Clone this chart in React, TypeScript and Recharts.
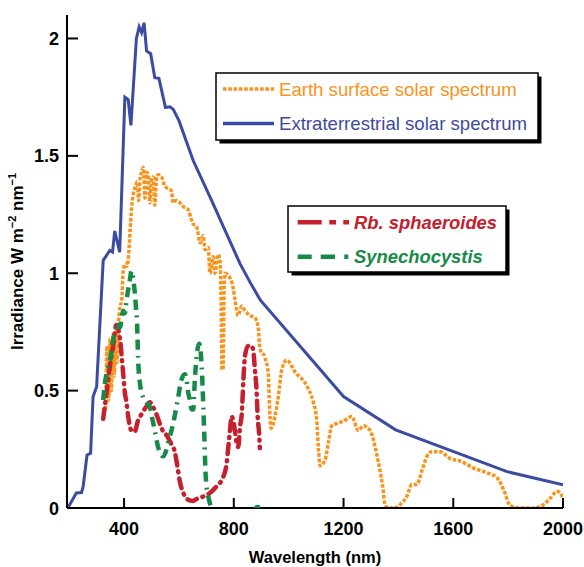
import React from "react";
import { ComposedChart, Line, Scatter, XAxis, YAxis } from "recharts";

// wavelength (nm) / irradiance (W m-2 nm-1) pairs
const extraNm = [195, 226, 245, 251, 265, 278, 287, 300, 324, 348, 358, 366, 384, 403, 415, 425, 445, 455, 464, 473, 482, 497, 512, 527, 551, 567, 579, 600, 652, 719, 823, 860, 897, 1200, 1390, 1796, 2000];
const extraVal = [0, 0.064, 0.066, 0.092, 0.226, 0.233, 0.474, 0.517, 1.055, 1.097, 1.09, 1.18, 1.09, 1.75, 1.74, 1.63, 2.0, 2.05, 2.025, 2.067, 1.947, 1.935, 1.833, 1.83, 1.706, 1.709, 1.699, 1.65, 1.48, 1.31, 1.04, 0.96, 0.885, 0.475, 0.333, 0.155, 0.099];

const earthNm = [333, 338, 344, 349, 354, 359, 364, 369, 374, 380, 386, 391, 397, 405, 411, 418, 424, 430, 436, 442, 448, 453, 458, 464, 470, 476, 482, 488, 494, 500, 506, 512, 518, 524, 537, 549, 562, 573, 579, 590, 604, 620, 634, 645, 652, 664, 677, 689, 695, 707, 713, 725, 731, 743, 750, 754, 757, 761, 765, 768, 786, 798, 804, 816, 829, 841, 859, 877, 889, 895, 914, 926, 929, 932, 936, 950, 962, 975, 993, 1023, 1066, 1090, 1102, 1108, 1115, 1133, 1145, 1157, 1175, 1200, 1230, 1254, 1272, 1297, 1309, 1321, 1333, 1343, 1352, 1365, 1382, 1406, 1431, 1449, 1467, 1486, 1504, 1522, 1552, 1589, 1625, 1674, 1723, 1759, 1783, 1808, 1844, 1893, 1929, 1954, 1978, 1990, 2000];
const earthVal = [0.42, 0.69, 0.46, 0.72, 0.5, 0.74, 0.56, 0.75, 0.62, 0.79, 0.86, 0.88, 1.01, 1.04, 1.03, 1.1, 1.22, 1.31, 1.35, 1.37, 1.39, 1.31, 1.4, 1.43, 1.45, 1.32, 1.43, 1.42, 1.3, 1.4, 1.41, 1.29, 1.4, 1.42, 1.41, 1.37, 1.36, 1.35, 1.3, 1.31, 1.3, 1.28, 1.27, 1.23, 1.21, 1.2, 1.13, 1.16, 1.1, 1.11, 1.0, 1.07, 1.0, 1.08, 1.05, 0.86, 0.59, 0.59, 0.95, 1.0, 0.98, 0.935, 0.89, 0.82, 0.86, 0.84, 0.82, 0.81, 0.77, 0.68, 0.64, 0.57, 0.47, 0.39, 0.34, 0.39, 0.47, 0.59, 0.63, 0.58, 0.52, 0.45, 0.38, 0.26, 0.18, 0.205, 0.28, 0.35, 0.36, 0.37, 0.39, 0.33, 0.35, 0.33, 0.29, 0.23, 0.16, 0.09, 0.01, 0, 0, 0.014, 0.05, 0.1, 0.1, 0.16, 0.22, 0.24, 0.24, 0.21, 0.2, 0.17, 0.15, 0.13, 0.08, 0.01, 0, 0, 0.014, 0.042, 0.071, 0.064, 0.04];

const rbNm = [324, 336, 348, 360, 372, 385, 397, 403, 409, 415, 427, 439, 450, 464, 480, 494, 506, 518, 530, 543, 555, 573, 585, 594, 604, 616, 634, 650, 670, 689, 713, 737, 762, 774, 780, 786, 792, 804, 810, 816, 823, 829, 835, 841, 853, 865, 871, 877, 883, 887, 892, 895];
const rbVal = [0.38, 0.49, 0.6, 0.69, 0.78, 0.72, 0.57, 0.49, 0.45, 0.39, 0.33, 0.325, 0.37, 0.4, 0.43, 0.45, 0.43, 0.4, 0.36, 0.325, 0.31, 0.27, 0.24, 0.18, 0.11, 0.064, 0.035, 0.03, 0.042, 0.049, 0.064, 0.092, 0.134, 0.19, 0.26, 0.33, 0.39, 0.33, 0.28, 0.26, 0.35, 0.4, 0.545, 0.65, 0.69, 0.69, 0.67, 0.59, 0.5, 0.39, 0.32, 0.255];

const synNm = [324, 330, 336, 342, 351, 360, 370, 378, 385, 391, 397, 403, 409, 415, 421, 427, 433, 443, 448, 451, 458, 470, 482, 494, 503, 512, 524, 533, 543, 552, 561, 579, 597, 610, 622, 628, 634, 640, 646, 652, 658, 664, 674, 683, 689, 693, 697, 701, 707, 713, 719];
const synVal = [0.46, 0.53, 0.57, 0.6, 0.64, 0.715, 0.76, 0.79, 0.77, 0.81, 0.84, 0.83, 0.885, 0.93, 0.97, 1.01, 0.98, 0.86, 0.77, 0.64, 0.53, 0.47, 0.45, 0.43, 0.38, 0.33, 0.26, 0.23, 0.22, 0.24, 0.28, 0.36, 0.47, 0.55, 0.57, 0.545, 0.49, 0.46, 0.42, 0.42, 0.545, 0.64, 0.7, 0.6, 0.43, 0.29, 0.15, 0.09, 0.049, 0.02, 0];
const synLoneNm = [886];
const synLoneVal = [0];

const xTicks = [400, 800, 1200, 1600, 2000];
const yTicks = [0, 0.5, 1, 1.5, 2];

const BLUE = "#3c4ba2";
const ORANGE = "#f7941e";
const RED = "#c4202e";
const GREEN = "#178a47";
const FONT = "'Liberation Sans', Arial, Helvetica, sans-serif";

const pairs = (xs: number[], ys: number[]) => xs.map((nm, i) => ({ nm, v: ys[i] }));

const extraData = pairs(extraNm, extraVal);
const earthData = pairs(earthNm, earthVal);
const rbData = pairs(rbNm, rbVal);
const synData = pairs(synNm, synVal);
const synLone = pairs(synLoneNm, synLoneVal);

function BottomTick({ x, y, payload }: any) {
  return (
    <g>
      <line x1={x} x2={x} y1={y} y2={y - 10} stroke="#000" strokeWidth={2} />
      <text x={x} y={y + 27} textAnchor="middle" fontFamily={FONT} fontWeight="bold" fontSize={18} fill="#000">
        {payload.value}
      </text>
    </g>
  );
}

function LeftTick({ x, y, payload }: any) {
  return (
    <g>
      <line x1={x} x2={x + 11} y1={y} y2={y} stroke="#000" strokeWidth={2} />
      <text x={x - 8} y={y + 6.5} textAnchor="end" fontFamily={FONT} fontWeight="bold" fontSize={18} fill="#000">
        {String(payload.value)}
      </text>
    </g>
  );
}

function TopTick({ x, y }: any) {
  return <line x1={x} x2={x} y1={y} y2={y + 10} stroke="#000" strokeWidth={2} />;
}

function RightTick({ x, y }: any) {
  return <line x1={x} x2={x - 11} y1={y} y2={y} stroke="#000" strokeWidth={2} />;
}

function Legends() {
  return (
    <svg width={584} height={567} style={{ position: "absolute", left: 0, top: 0, pointerEvents: "none" }}>
      <rect x={219.5} y={76.5} width={322} height={67} fill="#000" />
      <rect x={216} y={73} width={322} height={67} fill="#fff" stroke="#000" strokeWidth={1.5} />
      <line x1={223} x2={274} y1={89} y2={89} stroke={ORANGE} strokeWidth={3.5} strokeDasharray="3.6 1.7" />
      <text x={279} y={95.5} fontFamily={FONT} fontSize={18.6} fill={ORANGE}>Earth surface solar spectrum</text>
      <line x1={223} x2={274} y1={123.5} y2={123.5} stroke={BLUE} strokeWidth={3.5} />
      <text x={279} y={130} fontFamily={FONT} fontSize={18.6} fill={BLUE}>Extraterrestrial solar spectrum</text>

      <rect x={291.5} y={209.5} width={218} height={66} fill="#000" />
      <rect x={288} y={206} width={218} height={66} fill="#fff" stroke="#000" strokeWidth={1.5} />
      <line x1={297.7} x2={349} y1={222.3} y2={222.3} stroke={RED} strokeWidth={4.5} strokeDasharray="24 7.6 6.7 7.3 5.7 100" />
      <text x={354} y={228.8} fontFamily={FONT} fontSize={18.4} fontWeight="bold" fontStyle="italic" fill={RED}>Rb. sphaeroides</text>
      <line x1={297.7} x2={348.3} y1={256.7} y2={256.7} stroke={GREEN} strokeWidth={4.5} strokeDasharray="14 9 14.3 9.3 4 100" />
      <text x={354} y={263.2} fontFamily={FONT} fontSize={18.4} fontWeight="bold" fontStyle="italic" fill={GREEN}>Synechocystis</text>
    </svg>
  );
}

export default function App() {
  return (
    <div style={{ position: "absolute", left: 0, top: 0, width: 584, height: 567, background: "#fff" }}>
      <ComposedChart width={584} height={567} margin={{ top: 15, right: 21, bottom: 0, left: 0 }}>
        <XAxis
          dataKey="nm"
          type="number"
          domain={[192, 2000]}
          ticks={xTicks}
          allowDataOverflow
          height={59}
          tickLine={false}
          tickSize={0}
          tickMargin={0}
          axisLine={{ stroke: "#000", strokeWidth: 2 }}
          tick={<BottomTick />}
          label={{
            content: ({ viewBox }: any) => (
              <text x={viewBox.x + viewBox.width / 2} y={viewBox.y + 55} textAnchor="middle" fontFamily={FONT} fontWeight="bold" fontSize={16.5} fill="#000">
                Wavelength (nm)
              </text>
            ),
          }}
        />
        <XAxis
          xAxisId="top"
          orientation="top"
          dataKey="nm"
          type="number"
          domain={[192, 2000]}
          ticks={xTicks}
          allowDataOverflow
          height={0}
          tickLine={false}
          tickSize={0}
          tickMargin={0}
          axisLine={{ stroke: "#000", strokeWidth: 2 }}
          tick={<TopTick />}
        />
        <YAxis
          type="number"
          domain={[0, 2.1]}
          ticks={yTicks}
          allowDataOverflow
          width={67}
          tickLine={false}
          tickSize={0}
          tickMargin={0}
          axisLine={{ stroke: "#000", strokeWidth: 2 }}
          tick={<LeftTick />}
          label={{
            content: ({ viewBox }: any) => {
              const cx = viewBox.x + 23;
              const cy = viewBox.y + viewBox.height / 2;
              return (
                <text x={cx} y={cy} transform={`rotate(-90 ${cx} ${cy})`} textAnchor="middle" fontFamily={FONT} fontWeight="bold" fontSize={17} fill="#000">
                  Irradiance W m<tspan dy={-7} fontSize={11}>−2</tspan>
                  <tspan dy={7}> nm</tspan>
                  <tspan dy={-7} fontSize={11}>−1</tspan>
                </text>
              );
            },
          }}
        />
        <YAxis
          yAxisId="right"
          orientation="right"
          type="number"
          domain={[0, 2.1]}
          ticks={yTicks}
          allowDataOverflow
          width={0}
          tickLine={false}
          tickSize={0}
          tickMargin={0}
          axisLine={{ stroke: "#000", strokeWidth: 2 }}
          tick={<RightTick />}
        />
        <Line data={extraData} dataKey="v" type="linear" stroke={BLUE} strokeWidth={3} dot={false} isAnimationActive={false} />
        <Line data={earthData} dataKey="v" type="monotone" stroke={ORANGE} strokeWidth={3.5} strokeDasharray="3.6 1.7" dot={false} isAnimationActive={false} />
        <Line data={rbData} dataKey="v" type="monotone" stroke={RED} strokeWidth={4.5} strokeDasharray="10 6 1 6" strokeLinecap="round" dot={false} isAnimationActive={false} />
        <Line data={synData} dataKey="v" type="monotone" stroke={GREEN} strokeWidth={4.5} strokeDasharray="10 6 10 6 2 6" dot={false} isAnimationActive={false} />
        <Scatter
          data={synLone}
          dataKey="v"
          fill={GREEN}
          isAnimationActive={false}
          shape={(p: any) => <circle cx={p.cx} cy={p.cy} r={3.2} fill={GREEN} />}
        />
      </ComposedChart>
      <Legends />
    </div>
  );
}
